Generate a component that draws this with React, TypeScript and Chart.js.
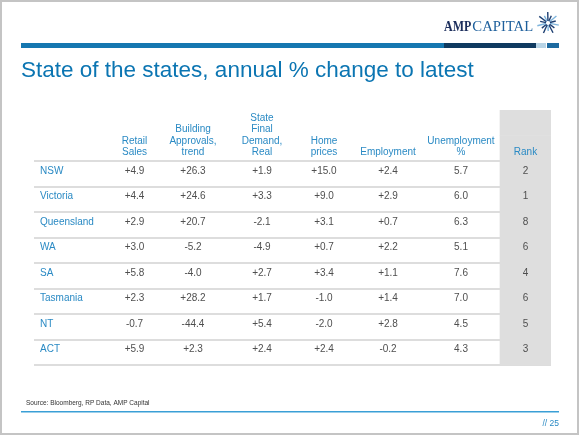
import React, { useEffect, useRef } from 'react';
import { Chart, registerables } from 'chart.js';

Chart.register(...registerables);

// ---- data ----
const COLUMNS = [
  'State',
  'Retail Sales',
  'Building Approvals, trend',
  'State Final Demand, Real',
  'Home prices',
  'Employment',
  'Unemployment %',
  'Rank',
];
const HEADER_LINES: string[][] = [
  [],
  ['Retail', 'Sales'],
  ['Building', 'Approvals,', 'trend'],
  ['State', 'Final', 'Demand,', 'Real'],
  ['Home', 'prices'],
  ['Employment'],
  ['Unemployment', '%'],
  ['Rank'],
];
const STATES = ['NSW', 'Victoria', 'Queensland', 'WA', 'SA', 'Tasmania', 'NT', 'ACT'];
const RETAIL_SALES = [4.9, 4.4, 2.9, 3.0, 5.8, 2.3, -0.7, 5.9];
const BUILDING_APPROVALS = [26.3, 24.6, 20.7, -5.2, -4.0, 28.2, -44.4, 2.3];
const STATE_FINAL_DEMAND = [1.9, 3.3, -2.1, -4.9, 2.7, 1.7, 5.4, 2.4];
const HOME_PRICES = [15.0, 9.0, 3.1, 0.7, 3.4, -1.0, -2.0, 2.4];
const EMPLOYMENT = [2.4, 2.9, 0.7, 2.2, 1.1, 1.4, 2.8, -0.2];
const UNEMPLOYMENT = [5.7, 6.0, 6.3, 5.1, 7.6, 7.0, 4.5, 4.3];
const RANK = [2, 1, 8, 6, 4, 6, 5, 3];

const TITLE = 'State of the states, annual % change to latest';
const SOURCE = 'Source: Bloomberg, RP Data, AMP Capital';
const PAGE = '// 25';

// ---- layout (table column widths, in table units) ----
const COL_WIDTHS = [79, 43, 74, 64, 60, 68, 78, 51];
const HEADER_ROWS = 2;
const FONT = '"Liberation Sans", Arial, sans-serif';

const TABLE_WIDTH = COL_WIDTHS.reduce((a, b) => a + b, 0);
const COL_START = COL_WIDTHS.map((_, i) => COL_WIDTHS.slice(0, i).reduce((a, b) => a + b, 0));
const COL_CENTER = COL_START.map((s, i) => s + COL_WIDTHS[i] / 2);
const TOTAL_ROWS = HEADER_ROWS + STATES.length;
const RANK_COL = COLUMNS.length - 1;

const signed = (v: number) => (v > 0 ? '+' : v < 0 ? '-' : '') + Math.abs(v).toFixed(1);

const CELLS: string[][] = STATES.map((_, i) => [
  signed(RETAIL_SALES[i]),
  signed(BUILDING_APPROVALS[i]),
  signed(STATE_FINAL_DEMAND[i]),
  signed(HOME_PRICES[i]),
  signed(EMPLOYMENT[i]),
  UNEMPLOYMENT[i].toFixed(1),
  String(RANK[i]),
]);

const slidePlugin = {
  id: 'slide',
  beforeDraw(chart: any) {
    const ctx = chart.ctx as CanvasRenderingContext2D;
    const W = chart.width;
    const H = chart.height;
    ctx.save();
    ctx.fillStyle = '#ffffff';
    ctx.fillRect(0, 0, W, H);
    // frame
    ctx.strokeStyle = '#c4c4c4';
    ctx.lineWidth = 2;
    ctx.strokeRect(1, 1, W - 3, H - 2);

    // top bar
    ctx.fillStyle = '#1577b0';
    ctx.fillRect(21, 43, 423, 5);
    ctx.fillStyle = '#0f3a60';
    ctx.fillRect(444, 43, 92, 5);
    ctx.fillStyle = '#b8d4e6';
    ctx.fillRect(536, 43, 10, 5);
    ctx.fillStyle = '#1d6aa0';
    ctx.fillRect(547, 43, 12, 5);

    // logo text
    ctx.textBaseline = 'alphabetic';
    ctx.textAlign = 'left';
    ctx.save();
    ctx.translate(444, 31);
    ctx.scale(0.8, 1);
    ctx.fillStyle = '#1b2d5c';
    ctx.font = 'bold 15px "Liberation Serif", serif';
    ctx.fillText('AMP', 0, 0);
    const w = ctx.measureText('AMP').width;
    ctx.restore();
    ctx.save();
    ctx.translate(444 + w * 0.8 + 1, 31);
    ctx.scale(0.98, 1);
    ctx.fillStyle = '#1d5f9c';
    ctx.font = '15px "Liberation Serif", serif';
    ctx.fillText('CAPITAL', 0, 0);
    ctx.restore();
    // snowflake
    const cx = 548;
    const cy = 23;
    for (let k = 0; k < 14; k++) {
      const a = (k / 14) * Math.PI * 2 + 0.2;
      const r = k % 2 === 0 ? 11 : 8;
      ctx.strokeStyle = k % 3 === 0 ? '#7db4dc' : '#1d3f72';
      ctx.lineWidth = 1.4;
      ctx.beginPath();
      ctx.moveTo(cx + Math.cos(a) * 2, cy + Math.sin(a) * 2);
      ctx.lineTo(cx + Math.cos(a) * r, cy + Math.sin(a) * r);
      ctx.stroke();
    }

    // title
    ctx.fillStyle = '#0b75b2';
    ctx.font = `22.5px ${FONT}`;
    ctx.fillText(TITLE, 21, 77);

    // footer
    ctx.fillStyle = '#333333';
    ctx.font = `6.5px ${FONT}`;
    ctx.fillText(SOURCE, 26, 405);
    ctx.fillStyle = '#3a9fd6';
    ctx.fillRect(21, 411, 538, 1.5);
    ctx.fillStyle = '#2a8ac4';
    ctx.font = `8.5px ${FONT}`;
    ctx.textAlign = 'right';
    ctx.fillText(PAGE, 559, 426);
    ctx.restore();
  },
  afterDatasetsDraw(chart: any) {
    const ctx = chart.ctx as CanvasRenderingContext2D;
    const xs = chart.scales.x;
    const ys = chart.scales.y;
    ctx.save();
    ctx.font = `10px ${FONT}`;
    ctx.textBaseline = 'middle';

    // header
    const headerBottom = ys.getPixelForValue(HEADER_ROWS) - 8.5;
    ctx.fillStyle = '#2a8ac4';
    ctx.textAlign = 'center';
    HEADER_LINES.forEach((lines, j) => {
      const x = xs.getPixelForValue(COL_CENTER[j]);
      lines.forEach((line, k) => {
        const y = headerBottom - (lines.length - 1 - k) * 11.5;
        ctx.fillText(line, x, y);
      });
    });

    // rows
    STATES.forEach((state, i) => {
      const y = ys.getPixelForValue(HEADER_ROWS + i + 0.5) - 3;
      ctx.fillStyle = '#2a8ac4';
      ctx.textAlign = 'left';
      ctx.fillText(state, xs.getPixelForValue(COL_START[0]) + 6, y);
      ctx.fillStyle = '#4f4f4f';
      ctx.textAlign = 'center';
      CELLS[i].forEach((txt, j) => {
        ctx.fillText(txt, xs.getPixelForValue(COL_CENTER[j + 1]), y);
      });
    });
    ctx.restore();
  },
};

export default function App() {
  const ref = useRef<HTMLCanvasElement | null>(null);
  useEffect(() => {
    document.body.style.margin = '0';
    const canvas = ref.current;
    if (!canvas) return;
    const rankStart = COL_START[RANK_COL];
    const rankEnd = rankStart + COL_WIDTHS[RANK_COL];
    const chart = new Chart(canvas, {
      type: 'bar',
      data: {
        datasets: [
          {
            label: 'Rank column',
            data: Array.from({ length: TOTAL_ROWS }, (_, r) => ({ x: [rankStart, rankEnd], y: r + 0.5 })) as any,
            backgroundColor: '#dedede',
            borderWidth: 0,
            borderSkipped: false,
            barPercentage: 1,
            categoryPercentage: 1,
          },
        ],
      },
      options: {
        indexAxis: 'y',
        responsive: false,
        animation: false,
        devicePixelRatio: 1,
        layout: { padding: { left: 34, right: 580 - 34 - TABLE_WIDTH, top: 110, bottom: 70 } },
        plugins: { legend: { display: false }, tooltip: { enabled: false }, title: { display: false } },
        scales: {
          x: { type: 'linear', display: false, min: 0, max: TABLE_WIDTH, offset: false },
          y: {
            type: 'linear',
            display: true,
            reverse: true,
            offset: false,
            min: 0,
            max: TOTAL_ROWS,
            ticks: { display: false, stepSize: 1 },
            border: { display: false },
            grid: {
              offset: false,
              drawTicks: false,
              lineWidth: 2,
              color: (c: any) => (c.tick && c.tick.value >= HEADER_ROWS ? '#dddddd' : 'rgba(0,0,0,0)'),
            },
          },
        },
      },
      plugins: [slidePlugin],
    });
    return () => chart.destroy();
  }, []);
  return <canvas ref={ref} width={580} height={435} style={{ display: 'block' }} />;
}
